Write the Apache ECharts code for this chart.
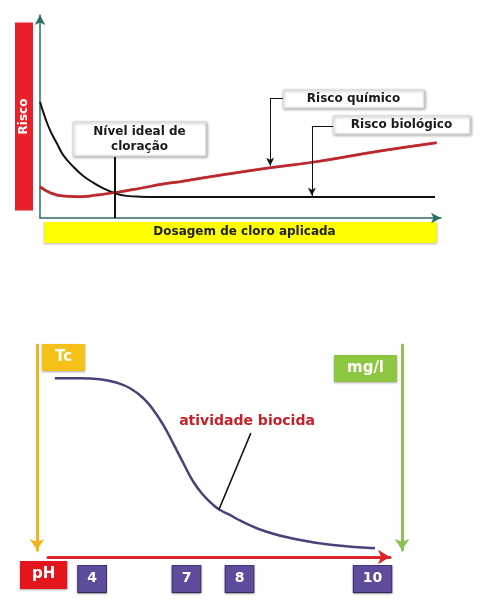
<!DOCTYPE html>
<html>
<head>
<meta charset="utf-8">
<script src="https://cdn.jsdelivr.net/npm/echarts@6/dist/echarts.min.js"></script>
<style>
html, body { margin: 0; padding: 0; background: #fff; }
#chart { width: 487px; height: 603px; }
</style>
</head>
<body>
<div id="chart"></div>
<script>
// grafico de cima: risco x dosagem de cloro (escala esquematica 0-100)
var riscoBiologico = [[0, 57.3], [1.2, 49.9], [2.5, 43.3], [4.2, 36.8], [5.8, 31.0], [8.3, 25.3],
    [10.8, 20.7], [13.3, 17.4], [15.8, 14.6], [18.7, 12.2], [21.6, 10.9], [24.9, 10.5],
    [29.1, 10.4], [98.5, 10.4]];
var riscoQuimico = [[0, 15.4], [2.5, 12.5], [5.8, 10.8], [10.0, 10.5], [14.1, 11.3], [18.7, 12.5],
    [24.9, 14.6], [30.7, 16.7], [34.9, 17.9], [46, 21.4], [57.4, 24.8], [67.8, 27.4],
    [84.8, 33.0], [98.9, 37.1]];
var nivelIdeal = 18.7;

// grafico de baixo: atividade biocida x pH (posicoes esquematicas)
var atividadeBiocida = [[2.0, 83.8], [9.4, 83.8], [15.2, 83.3], [20.1, 81.6], [24.0, 78.9], [27.9, 74.0],
    [30.8, 68.3], [33.7, 61.0], [36.6, 52.0], [39.6, 42.3], [42.5, 33.3], [45.4, 26.8], [48.3, 22.0],
    [50.3, 19.5], [53.2, 17.1], [56.1, 14.4], [63.9, 8.9], [73.7, 4.9], [83.3, 2.4], [95.6, 0.8]];
var phLabels = ['4', '7', '8', '10'];
var phPos = [12.9, 40.5, 56.0, 94.9];

var FONT = 'DejaVu Sans';
var myChart = echarts.init(document.getElementById('chart'), null, { renderer: 'canvas' });

function caixa(x, y, w, h, texto, size) {
    return {
        type: 'group',
        children: [
            {
                type: 'rect', shape: { x: x, y: y, width: w, height: h },
                style: { fill: '#fff', stroke: '#d8d8d8', lineWidth: 1,
                    shadowBlur: 3, shadowOffsetX: 1, shadowOffsetY: 1, shadowColor: 'rgba(0,0,0,0.35)' }
            },
            {
                type: 'text', x: x + w / 2, y: y + h / 2,
                style: { text: texto, font: 'bold ' + size + 'px ' + FONT, fill: '#1a1a1a',
                    align: 'center', verticalAlign: 'middle', textAlign: 'center', textVerticalAlign: 'middle',
                    lineHeight: size + 3 }
            }
        ]
    };
}

var leader = { symbol: ['none', 'none'], silent: true, animation: false, label: { show: false } };

var option = {
    animation: false,
    textStyle: { fontFamily: FONT },
    grid: [
        { left: 40, top: 15, width: 401, height: 203 },
        { left: 48, top: 345, width: 342, height: 205 }
    ],
    xAxis: [
        {
            gridIndex: 0, type: 'value', min: 0, max: 100,
            axisLine: { onZero: false, symbol: ['none', 'arrow'], symbolSize: [8, 10], lineStyle: { color: '#2c6e61', width: 1.5 } },
            axisTick: { show: false }, axisLabel: { show: false }, splitLine: { show: false },
            name: 'Dosagem de cloro aplicada', nameLocation: 'middle', nameGap: 4,
            nameTextStyle: { backgroundColor: '#ffff00', color: '#222', fontWeight: 'bold', fontSize: 12,
                padding: [4, 101, 5, 109], verticalAlign: 'top', shadowBlur: 2, shadowOffsetY: 1, shadowColor: 'rgba(0,0,0,0.3)' }
        },
        {
            gridIndex: 1, type: 'value', min: 0, max: 100, offset: 7,
            axisLine: { onZero: false, symbol: ['none', 'arrow'], symbolSize: [11, 12], lineStyle: { color: '#d8262a', width: 3 } },
            axisTick: { show: false }, splitLine: { show: false },
            axisLabel: {
                customValues: phPos, margin: 9, interval: 0,
                formatter: function (v) {
                    var i = phPos.indexOf(v);
                    return i >= 0 ? phLabels[i] : '';
                },
                color: '#fff', fontWeight: 'bold', fontSize: 14, backgroundColor: '#5f4b9b',
                borderColor: '#45367a', borderWidth: 1, padding: [5, 9, 7, 9], verticalAlign: 'top',
                shadowBlur: 2, shadowOffsetY: 1, shadowColor: 'rgba(0,0,0,0.35)'
            },
            name: '{b|pH}', nameLocation: 'start', nameGap: 28,
            nameTextStyle: { align: 'left', verticalAlign: 'top', padding: [4, 0, 0, 0],
                rich: { b: { backgroundColor: '#e3161b', color: '#fff', fontWeight: 'bold', fontSize: 15,
                    padding: [6, 12, 7, 12], shadowBlur: 2, shadowOffsetY: 1, shadowColor: 'rgba(0,0,0,0.35)' } } }
        }
    ],
    yAxis: [
        {
            gridIndex: 0, type: 'value', min: 0, max: 100,
            axisLine: { onZero: false, symbol: ['none', 'arrow'], symbolSize: [8, 10], lineStyle: { color: '#2c6e61', width: 1.5 } },
            axisTick: { show: false }, axisLabel: { show: false }, splitLine: { show: false },
            name: 'Risco', nameLocation: 'middle', nameRotate: 90, nameGap: 7,
            nameTextStyle: { backgroundColor: '#e8202a', color: '#fff', fontWeight: 'bold', fontSize: 12,
                padding: [3, 76, 3, 76] }
        },
        {
            gridIndex: 1, type: 'value', min: 0, max: 100, position: 'left', offset: 11,
            axisLine: { onZero: false, symbol: ['arrow', 'none'], symbolSize: [11, 11], lineStyle: { color: '#f0b51e', width: 3 } },
            axisTick: { show: false }, axisLabel: { show: false }, splitLine: { show: false },
            name: '{s|}{b|Tc}', nameLocation: 'end', nameGap: 1,
            nameTextStyle: { align: 'left', verticalAlign: 'top',
                rich: { s: { width: 5 }, b: { backgroundColor: '#f5c21a', color: '#fff', fontWeight: 'bold',
                    fontSize: 15, padding: [6, 13], shadowBlur: 2, shadowOffsetY: 1, shadowColor: 'rgba(0,0,0,0.35)' } } }
        },
        {
            gridIndex: 1, type: 'value', min: 0, max: 100, position: 'right', offset: 12,
            axisLine: { onZero: false, symbol: ['arrow', 'none'], symbolSize: [11, 11], lineStyle: { color: '#8cc152', width: 3 } },
            axisTick: { show: false }, axisLabel: { show: false }, splitLine: { show: false },
            name: '{b|mg/l}{s|}', nameLocation: 'end', nameGap: -10,
            nameTextStyle: { align: 'right', verticalAlign: 'top',
                rich: { s: { width: 5 }, b: { backgroundColor: '#8dc641', color: '#fff', fontWeight: 'bold',
                    fontSize: 15, padding: [6, 13], shadowBlur: 2, shadowOffsetY: 1, shadowColor: 'rgba(0,0,0,0.35)' } } }
        }
    ],
    series: [
        {
            name: 'Risco biológico', type: 'line', xAxisIndex: 0, yAxisIndex: 0,
            data: riscoBiologico, smooth: 0.5, showSymbol: false,
            lineStyle: { color: '#111', width: 2 },
            markLine: Object.assign({}, leader, {
                lineStyle: { color: '#111', width: 1, type: 'solid' },
                data: [
                    [{ coord: [73.1, 45.3] }, { coord: [67.8, 45.3] }],
                    [{ coord: [67.8, 45.3] }, { coord: [67.8, 10.9], symbol: 'arrow', symbolSize: [6, 8] }],
                    [{ coord: [nivelIdeal, 0], lineStyle: { width: 2 } }, { coord: [nivelIdeal, 30], lineStyle: { width: 2 } }]
                ]
            })
        },
        {
            name: 'Risco químico', type: 'line', xAxisIndex: 0, yAxisIndex: 0,
            data: riscoQuimico, smooth: 0.5, showSymbol: false,
            lineStyle: { color: '#c0252b', width: 2.5, shadowColor: 'rgba(90,0,0,0.6)', shadowBlur: 1 },
            markLine: Object.assign({}, leader, {
                lineStyle: { color: '#111', width: 1, type: 'solid' },
                data: [
                    [{ coord: [60.6, 59.1] }, { coord: [57.4, 59.1] }],
                    [{ coord: [57.4, 59.1] }, { coord: [57.4, 25.8], symbol: 'arrow', symbolSize: [6, 8] }]
                ]
            })
        },
        {
            name: 'atividade biocida', type: 'line', xAxisIndex: 1, yAxisIndex: 1,
            data: atividadeBiocida, smooth: 0.5, showSymbol: false,
            lineStyle: { color: '#4b4178', width: 2.5 },
            markLine: Object.assign({}, leader, {
                lineStyle: { color: '#111', width: 1.5, type: 'solid' },
                data: [
                    [{ coord: [59.3, 57.0] }, { coord: [50.0, 19.8] }]
                ]
            })
        }
    ],
    graphic: [
        caixa(73, 122, 133, 34, 'Nível ideal de\ncloração', 12),
        caixa(283, 90, 141, 18, 'Risco químico', 12),
        caixa(333, 116, 137, 18, 'Risco biológico', 12),
        {
            type: 'text', x: 247, y: 421,
            style: { text: 'atividade biocida', font: 'bold 14px ' + FONT, fill: '#c8202a',
                align: 'center', verticalAlign: 'middle', textAlign: 'center', textVerticalAlign: 'middle' }
        }
    ]
};

myChart.setOption(option);
</script>
</body>
</html>
